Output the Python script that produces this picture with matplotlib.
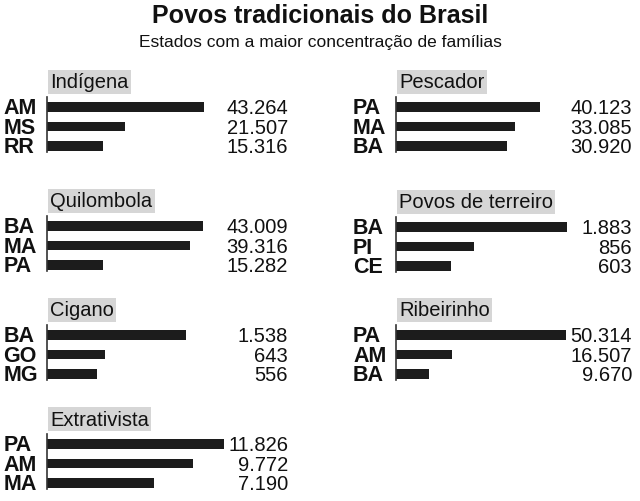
import matplotlib
matplotlib.use("Agg")
import matplotlib.pyplot as plt
import matplotlib.transforms as mtransforms

plt.rcParams["font.family"] = ["Liberation Sans", "DejaVu Sans"]

# ---- data ----
indigena_states = ["AM", "MS", "RR"]
indigena_values = [43264, 21507, 15316]

quilombola_states = ["BA", "MA", "PA"]
quilombola_values = [43009, 39316, 15282]

cigano_states = ["BA", "GO", "MG"]
cigano_values = [1538, 643, 556]

extrativista_states = ["PA", "AM", "MA"]
extrativista_values = [11826, 9772, 7190]

pescador_states = ["PA", "MA", "BA"]
pescador_values = [40123, 33085, 30920]

terreiro_states = ["BA", "PI", "CE"]
terreiro_values = [1883, 856, 603]

ribeirinho_states = ["PA", "AM", "BA"]
ribeirinho_values = [50314, 16507, 9670]

W, H = 640, 502
fig = plt.figure(figsize=(W / 100, H / 100), dpi=100)


def fx(px):
    return px / W


def fy(py):
    return 1 - py / H


ROW = 19.5  # pixel spacing between bars


def fmt(v):
    return f"{v:,}".replace(",", ".")


def panel(title, states, values, x0, x1, r1, xmax):
    # axes from x0 to x1 (px), first bar centred at r1 (px from top)
    top = r1 - 0.5 * ROW
    bottom = r1 + 2.3 * ROW
    ax = fig.add_axes([fx(x0), fy(bottom), fx(x1 - x0), (bottom - top) / H])
    ys = list(range(len(values)))
    ax.barh(ys, values, height=0.47, color="#1c1c1c")
    ax.set_ylim(2.3, -0.5)
    ax.set_xlim(0, xmax)
    for s in ["top", "right", "bottom"]:
        ax.spines[s].set_visible(False)
    ax.spines["left"].set_color("#333333")
    ax.spines["left"].set_linewidth(1.2)
    ax.set_xticks([])
    ax.set_yticks([])
    ax.patch.set_alpha(0)

    trans = mtransforms.blended_transform_factory(ax.transAxes, ax.transData)
    for y, st, v in zip(ys, states, values):
        ax.text(-0.182, y + 0.03, st, transform=trans, ha="left", va="center",
                fontsize=15.5, fontweight="bold", color="#111111")
        ax.text(1.0, y + 0.03, fmt(v), transform=trans, ha="right", va="center",
                fontsize=14.5, color="#111111")

    fig.text(fx(x0 + 3), fy(r1 - 25), title, ha="left", va="center",
             fontsize=14.5, color="#111111",
             bbox=dict(boxstyle="square,pad=0.12", fc="#d6d6d6", ec="none"))
    return ax


# left column
panel("Indígena", indigena_states, indigena_values, 47, 288, 108, 275 * 241)
panel("Quilombola", quilombola_states, quilombola_values, 47, 288, 227, 275 * 241)
panel("Cigano", cigano_states, cigano_values, 47, 288, 336, 11.1 * 241)
panel("Extrativista", extrativista_states, extrativista_values, 47, 288, 445, 67 * 241)

# right column
panel("Pescador", pescador_states, pescador_values, 396, 632, 108, 278 * 236)
panel("Povos de terreiro", terreiro_states, terreiro_values, 396, 632, 228, 11 * 236)
panel("Ribeirinho", ribeirinho_states, ribeirinho_values, 396, 632, 336, 296 * 236)

fig.text(0.5, fy(16), "Povos tradicionais do Brasil", ha="center", va="center",
         fontsize=18, fontweight="bold", color="#111111")
fig.text(0.5, fy(42), "Estados com a maior concentração de famílias", ha="center",
         va="center", fontsize=12.5, color="#111111")

fig.savefig("out.png", dpi=100)
